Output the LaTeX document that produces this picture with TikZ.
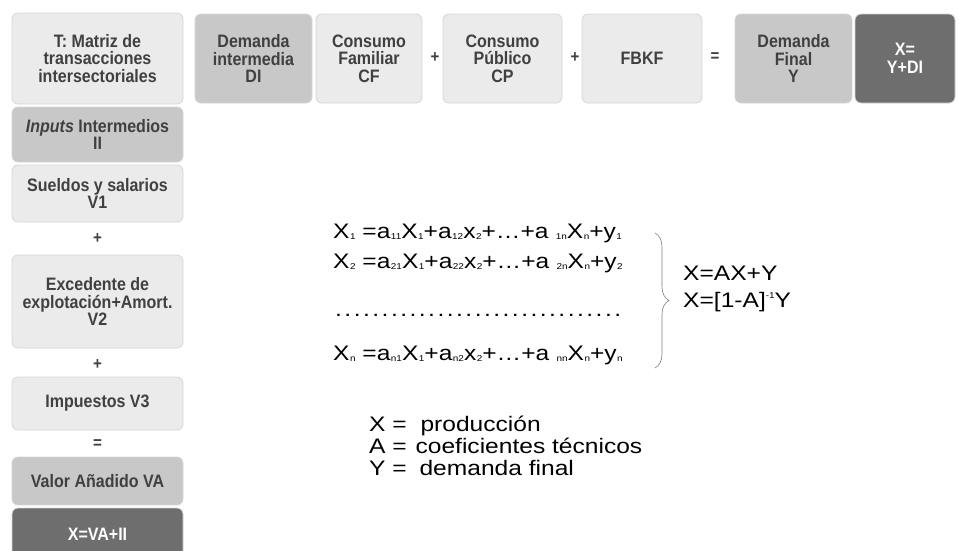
\documentclass[tikz,border=0pt]{standalone}
\usepackage{fontspec}
\setmainfont{Liberation Sans}
\newfontfamily\boxfont{Liberation Sans}[FakeStretch=0.89]
\newfontfamily\eqfont{Liberation Sans}[FakeStretch=1.17]
\usetikzlibrary{decorations.pathreplacing}
\definecolor{boxtext}{HTML}{404040}
\definecolor{lightfill}{HTML}{EBEBEB}
\definecolor{midfill}{HTML}{C8C8C8}
\definecolor{darkfill}{HTML}{6E6E6E}
\definecolor{boxline}{HTML}{D6D6D6}
\newcommand{\ix}[1]{\hspace{0.5pt}\raisebox{-1.5pt}{\fontsize{8.5}{8.5}\selectfont #1}}
\newcommand{\ex}[1]{\raisebox{8.5pt}{\fontsize{8.5}{8.5}\selectfont #1}}

\begin{document}
\begin{tikzpicture}[x=1pt,y=-1pt]
% Define the node styles
\tikzstyle{cell} = [draw=boxline, line width=0.8pt, rounded corners=6pt, inner sep=0pt, align=center, font=\boxfont\bfseries\fontsize{18}{17.5}\selectfont, text=boxtext]
\tikzstyle{light} = [cell, fill=lightfill]
\tikzstyle{mid} = [cell, fill=midfill]
\tikzstyle{dark} = [cell, fill=darkfill, text=white]
\tikzstyle{op} = [inner sep=0pt, font=\boxfont\bfseries\fontsize{17}{17}\selectfont, text=boxtext]
\tikzstyle{eq} = [anchor=base west, inner sep=0pt, font=\eqfont\fontsize{21}{25}\selectfont]

\useasboundingbox (0,0) rectangle (959,550);

% Top row: demand side
\node[light, minimum width=171pt, minimum height=91pt] (T) at (97.5,58.5) {T: Matriz de\\transacciones\\intersectoriales};
\node[mid, minimum width=117pt, minimum height=89pt] (DI) at (253.5,58.5) {Demanda\\intermedia\\DI};
\node[light, minimum width=106pt, minimum height=89pt] (CF) at (369,58.5) {Consumo\\Familiar\\CF};
\node[op] (plus1) at (435,58) {+};
\node[light, minimum width=119pt, minimum height=89pt] (CP) at (502.5,58.5) {Consumo\\Público\\CP};
\node[op] (plus2) at (575,58) {+};
\node[light, minimum width=120pt, minimum height=89pt] (FBKF) at (642,58.5) {FBKF};
\node[op] (eq1) at (715,57) {=};
\node[mid, minimum width=117pt, minimum height=89pt] (DF) at (793.5,58.5) {Demanda\\Final\\Y};
\node[dark, minimum width=100pt, minimum height=89pt] (XT) at (905,58.5) {X=\\Y+DI};

% Left column: supply side
\node[mid, minimum width=171pt, minimum height=55pt] (II) at (97.5,134.5) {\textit{Inputs} Intermedios\\II};
\node[light, minimum width=171pt, minimum height=57pt] (V1) at (97.5,193.5) {Sueldos y salarios\\V1};
\node[op] (plus3) at (97.5,239) {+};
\node[light, minimum width=171pt, minimum height=93pt] (V2) at (97.5,301.5) {Excedente de\\explotación+Amort.\\V2};
\node[op] (plus4) at (97.5,365) {+};
\node[light, minimum width=171pt, minimum height=53pt] (V3) at (97.5,403.5) {Impuestos V3};
\node[op] (eq2) at (97.5,444) {=};
\node[mid, minimum width=171pt, minimum height=48pt] (VA) at (97.5,481) {Valor Añadido VA};
\node[dark, minimum width=171pt, minimum height=52pt] (XL) at (97.5,534) {X=VA+II};

% Equation system
\node[eq] (row1) at (333,238) {X\ix{1} =a\ix{11}X\ix{1}+a\ix{12}x\ix{2}+…+a \ix{1n}X\ix{n}+y\ix{1}};
\node[eq] (row2) at (333,268) {X\ix{2} =a\ix{21}X\ix{1}+a\ix{22}x\ix{2}+…+a \ix{2n}X\ix{n}+y\ix{2}};
\node[eq] (dots) at (335,316) {\makebox[290pt][l]{\leaders\hbox to 9.3pt{.\hss}\hfill}};
\node[eq] (rown) at (333,360) {X\ix{n} =a\ix{n1}X\ix{1}+a\ix{n2}x\ix{2}+…+a \ix{nn}X\ix{n}+y\ix{n}};

% Brace and matrix form
\coordinate (bt) at (655,233);
\coordinate (bb) at (655,368);
\draw[gray, line width=0.6pt, decorate, decoration={brace, amplitude=14pt}] (bt) -- (bb);
\node[eq] (sol1) at (683,280) {X=AX+Y};
\node[eq] (sol2) at (683,307) {X=[1-A]\ex{-1}Y};

% Legend
\node[eq] (leg1) at (369,431) {X = \hspace{7pt}producción};
\node[eq] (leg2) at (369,453) {A = \hspace{2pt}coeficientes técnicos};
\node[eq] (leg3) at (369,475) {Y = \hspace{6pt}demanda final};
\end{tikzpicture}
\end{document}
